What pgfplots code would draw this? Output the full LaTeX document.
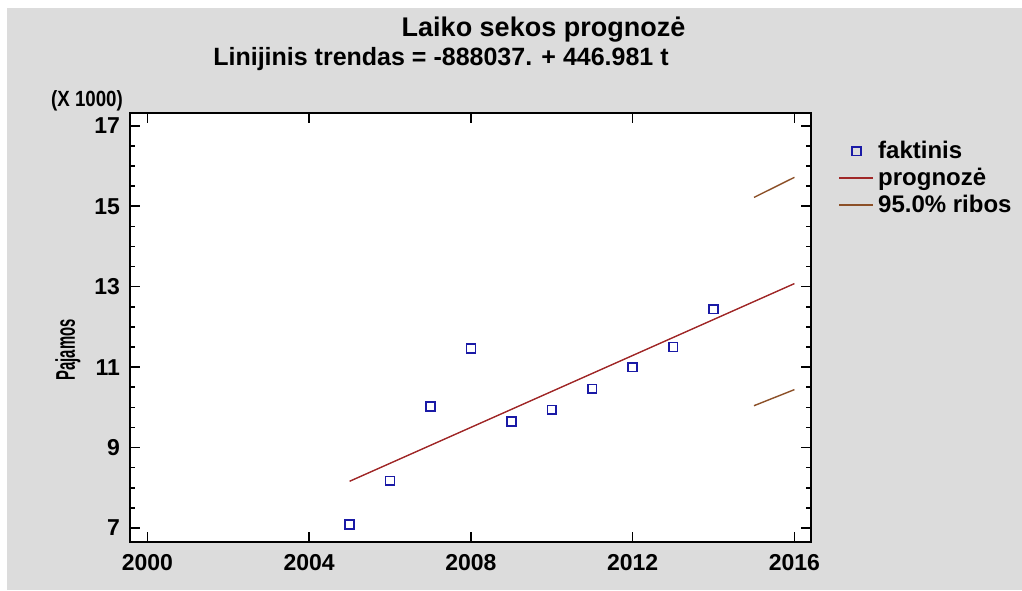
\documentclass[border=0pt]{standalone}
\usepackage{pgfplots}
\pgfplotsset{compat=1.18}
\usepackage{fontspec}
\setmainfont{Liberation Sans}
\definecolor{bg}{HTML}{DCDCDC}
\definecolor{mk}{HTML}{1A1AA6}
\definecolor{trend}{HTML}{A02828}
\definecolor{band}{HTML}{8C5028}
\begin{document}
\begin{tikzpicture}[x=1pt,y=1pt]
\path[use as bounding box] (0,0) rectangle (511,295);
\fill[white] (0,0) rectangle (511,295);
\fill[bg] (3.5,0) rectangle (511,291);
\begin{axis}[
  at={(65pt,24pt)}, anchor=south west,
  width=340.5pt, height=214.5pt, scale only axis,
  xmin=1999.57, xmax=2016.41, ymin=6.65, ymax=17.32,
  axis background/.style={fill=white},
  xtick={2000,2004,...,2016}, ytick={7,9,...,17},
  minor y tick num=3,
  tick align=inside,
  major tick length=5pt, minor tick length=2.5pt,
  axis line style={line width=1pt},
  every tick/.style={black, line width=0.8pt},
  x tick label style={/pgf/number format/1000 sep={}, yshift=-2.5pt},
  y tick label style={xshift=-1.5pt},
  /pgf/number format/assume math mode=true,
  ticklabel style={font=\bfseries\fontsize{11.5}{13}\selectfont},
  legend style={at={(1.04,0.945)}, anchor=north west, draw=none, fill=none,
    font=\bfseries\fontsize{12}{13}\selectfont, row sep=-0.7pt, inner sep=0pt},
  legend cell align=left,
]
\addplot[only marks, mark=square, mark size=2.2pt, mark options={draw=mk, fill=white, line width=0.8pt}]
  coordinates {(2005,7.09) (2006,8.17) (2007,10.02) (2008,11.46) (2009,9.65)
               (2010,9.94) (2011,10.46) (2012,11.00) (2013,11.50) (2014,12.44)};
\addlegendentry{faktinis}
\addplot[trend, line width=0.7pt] coordinates {(2005,8.160) (2016,13.077)};
\addlegendentry{prognozė}
\addplot[band, line width=0.7pt] coordinates {(2015,15.22) (2016,15.72)};
\addlegendentry{95.0\% ribos}
\addplot[band, line width=0.7pt, forget plot] coordinates {(2015,10.04) (2016,10.44)};
\end{axis}
\node[font=\bfseries\fontsize{13.5}{15}\selectfont] at (271.75,280) {Laiko sekos prognozė};
\node[font=\bfseries\fontsize{12.5}{14}\selectfont] at (220.5,265.5) {Linijinis trendas = -888037. + 446.981 t};
\node[font=\bfseries\fontsize{11}{13}\selectfont] at (43.5,244.5) {\scalebox{0.85}[1]{(X 1000)}};
\node[font=\bfseries\fontsize{13.5}{15}\selectfont, rotate=90] at (34,120) {\scalebox{0.55}[1]{Pajamos}};
\end{tikzpicture}
\end{document}
